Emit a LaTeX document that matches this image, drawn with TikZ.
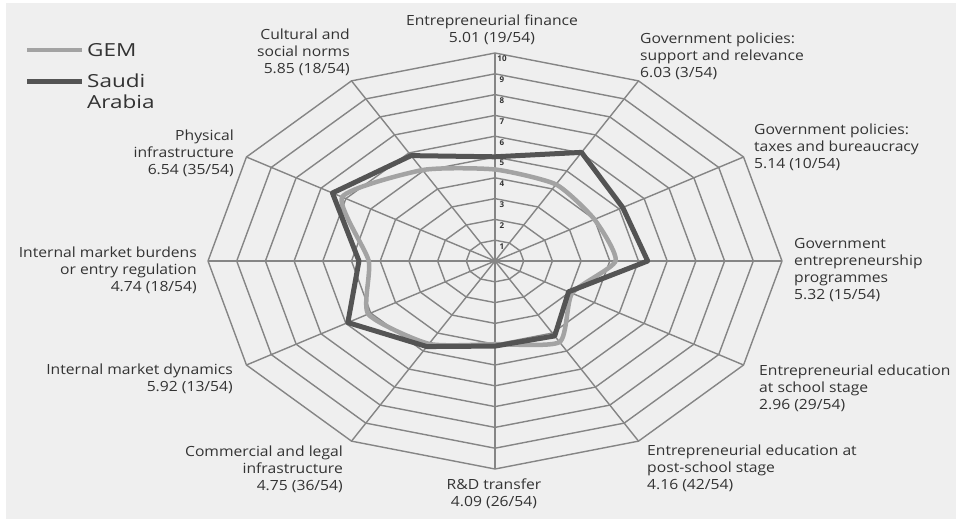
\documentclass[tikz,border=0pt]{standalone}
\usepackage{fontspec}
\setmainfont{Open Sans}
\newfontfamily\lblfont[FakeStretch=1.12]{Open Sans}
\newfontfamily\legfont[FakeStretch=1.25]{Open Sans}
\definecolor{panel}{HTML}{EFEFEF}
\definecolor{gridc}{HTML}{858585}
\definecolor{gemc}{HTML}{A3A3A3}
\definecolor{saudic}{HTML}{545454}
\definecolor{txt}{HTML}{333333}
\begin{document}
\begin{tikzpicture}[x=1pt,y=-1pt,
  gridline/.style={draw=gridc,line width=1.4pt,line join=round},
  gemline/.style={draw=gemc,line width=4.5pt,line join=round},
  saudiline/.style={draw=saudic,line width=5pt,line join=round},
  lbl/.style={text=txt,inner sep=0pt,font=\lblfont\fontsize{14}{17}\selectfont},
  leg/.style={text=txt,inner sep=0pt,font=\legfont\fontsize{18}{21}\selectfont},
  tick/.style={text=txt,inner sep=0pt,font=\fontsize{8}{8}\selectfont\bfseries}]
\def\cx{495}\def\cy{261}\def\rx{28.7}\def\ry{20.8}
\useasboundingbox (0,0) rectangle (960,522);
\fill[white] (0,0) rectangle (960,522);
\fill[panel] (6,3) rectangle (956,519);
% grid rings
\foreach \r in {1,...,10}{
  \draw[gridline] ({\cx},{\cy-\r*\ry}) \foreach \k in {1,...,11}{ -- ({\cx+\r*\rx*sin(30*\k)},{\cy-\r*\ry*cos(30*\k)}) } -- cycle;
}
% spokes
\coordinate (c) at (\cx,\cy);
\foreach \k in {0,...,11}{
  \coordinate (v\k) at ({\cx+10*\rx*sin(30*\k)},{\cy-10*\ry*cos(30*\k)});
  \draw[gridline] (c) -- (v\k);
}
% scale numbers
\foreach \r in {1,...,10}{
  \node[tick] (t\r) at (502,{\cy-\r*\ry+6}) {\r};
}
% data
\foreach \v [count=\k from 0] in {4.4,4.25,4.0,4.2,3.1,4.5,4.0,4.6,5.1,4.4,6.15,5.05}
  \coordinate (g\k) at ({\cx+\v*\rx*sin(30*\k)},{\cy-\v*\ry*cos(30*\k)});
\foreach \v [count=\k from 0] in {5.01,6.03,5.14,5.32,2.96,4.16,4.09,4.75,5.92,4.74,6.54,5.85}
  \coordinate (s\k) at ({\cx+\v*\rx*sin(30*\k)},{\cy-\v*\ry*cos(30*\k)});
\draw[gemline] plot[smooth cycle,tension=0.35] coordinates {(g0) (g1) (g2) (g3) (g4) (g5) (g6) (g7) (g8) (g9) (g10) (g11)};
\draw[saudiline] (s0) \foreach \k in {1,...,11}{ -- (s\k)} -- cycle;
% labels
\node[lbl,align=center] (l0) at (492,29.5) {Entrepreneurial finance\\5.01 (19/54)};
\node[lbl,align=left,anchor=west] (l1) at (640,56) {Government policies:\\support and relevance\\6.03 (3/54)};
\node[lbl,align=left,anchor=west] (l2) at (754,147) {Government policies:\\taxes and bureaucracy\\5.14 (10/54)};
\node[lbl,align=left,anchor=west] (l3) at (794,270.5) {Government\\entrepreneurship\\programmes\\5.32 (15/54)};
\node[lbl,align=left,anchor=west] (l4) at (759,388) {Entrepreneurial education\\at school stage\\2.96 (29/54)};
\node[lbl,align=left,anchor=west] (l5) at (647,468) {Entrepreneurial education at\\post-school stage\\4.16 (42/54)};
\node[lbl,align=center] (l6) at (494,493.5) {R\&D transfer\\4.09 (26/54)};
\node[lbl,align=right,anchor=east] (l7) at (343,469) {Commercial and legal\\infrastructure\\4.75 (36/54)};
\node[lbl,align=right,anchor=east] (l8) at (233,378.5) {Internal market dynamics\\5.92 (13/54)};
\node[lbl,align=right,anchor=east] (l9) at (197,270) {Internal market burdens\\or entry regulation\\4.74 (18/54)};
\node[lbl,align=right,anchor=east] (l10) at (234,153) {Physical\\infrastructure\\6.54 (35/54)};
\node[lbl,align=right,anchor=east] (l11) at (350,52) {Cultural and\\social norms\\5.85 (18/54)};
% legend
\coordinate (ga) at (27,50); \coordinate (gb) at (82,50);
\coordinate (sa) at (27,81); \coordinate (sb) at (82,81);
\draw[gemline] (ga) -- (gb);
\draw[saudiline] (sa) -- (sb);
\node[leg,anchor=west] (lg) at (87,50) {GEM};
\node[leg,anchor=west,align=left] (ls) at (87,91.5) {Saudi\\Arabia};
\end{tikzpicture}
\end{document}
